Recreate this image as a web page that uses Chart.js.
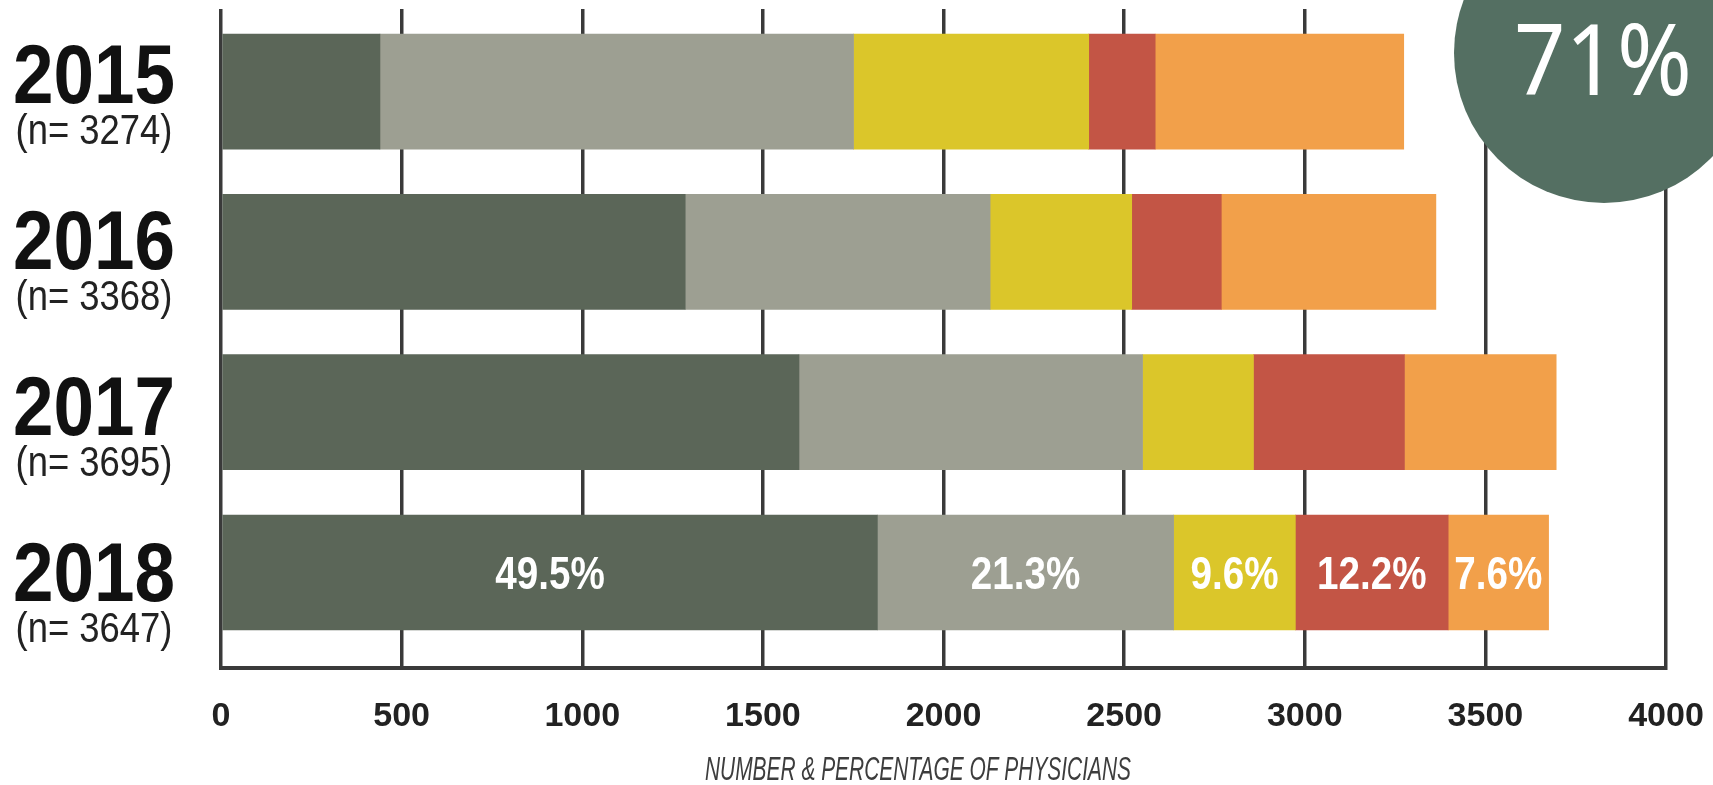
<!DOCTYPE html>
<html>
<head>
<meta charset="utf-8">
<script src="https://cdn.jsdelivr.net/npm/chart.js@4.4.1/dist/chart.umd.min.js"></script>
<style>
  html, body { margin: 0; padding: 0; background: #ffffff; overflow: hidden; }
  #wrap { width: 1713px; height: 785px; position: relative; }
</style>
</head>
<body>
<div id="wrap"><canvas id="c" width="1713" height="785"></canvas></div>
<script>
// ---------- data ----------
const years = ['2015', '2016', '2017', '2018'];
const sampleSizes = [3274, 3368, 3695, 3647];
const segDark   = [440, 1285, 1600, 1817];
const segGray   = [1311, 844, 951, 820];
const segYellow = [651, 392, 307, 337];
const segRed    = [184, 248, 418, 423];
const segOrange = [688, 594, 420, 278];
const pct2018   = [49.5, 21.3, 9.6, 12.2, 7.6];
const xTicks    = [0, 500, 1000, 1500, 2000, 2500, 3000, 3500, 4000];
const axisTitle = 'NUMBER & PERCENTAGE OF PHYSICIANS';
const callout   = '71%';

// ---------- styles ----------
const SANS = '"Liberation Sans", Arial, sans-serif';
const colors = ['#5b6658', '#9d9f92', '#dbc62a', '#c35545', '#f2a04a'];
const LINE = '#3a3a3a';

function condensed(ctx, text, x, y, factor) {
  const w = ctx.measureText(text).width;
  ctx.fillText(text, x, y, w * factor);
}

const extras = {
  id: 'extras',
  afterDatasetsDraw(chart) {
    const ctx = chart.ctx;
    const last = years.length - 1;
    ctx.save();
    ctx.fillStyle = '#ffffff';
    ctx.font = 'bold 46px ' + SANS;
    ctx.textAlign = 'center';
    ctx.textBaseline = 'alphabetic';
    chart.data.datasets.forEach((ds, di) => {
      const el = chart.getDatasetMeta(di).data[last];
      if (!el) return;
      const p = el.getCenterPoint();
      condensed(ctx, pct2018[di].toFixed(1) + '%', p.x, p.y + 17, 0.84);
    });
    ctx.restore();
  },
  afterDraw(chart) {
    const ctx = chart.ctx;
    const yS = chart.scales.y;
    ctx.save();
    ctx.textAlign = 'center';
    ctx.textBaseline = 'alphabetic';
    years.forEach((y, i) => {
      const py = yS.getPixelForValue(i) + (i - 1.5) * 6;
      ctx.fillStyle = '#111111';
      ctx.font = 'bold 84px ' + SANS;
      ctx.fillText(y, 94, py + 20, 162);
      ctx.fillStyle = '#222222';
      ctx.font = '42px ' + SANS;
      ctx.fillText('(n= ' + sampleSizes[i] + ')', 94, py + 61, 157);
    });
    // axis title
    ctx.fillStyle = '#3d3d3d';
    ctx.font = 'italic 34px ' + SANS;
    ctx.fillText(axisTitle, 918, 780, 426);
    // callout circle
    ctx.beginPath();
    ctx.arc(1604, 53, 150, 0, Math.PI * 2);
    ctx.fillStyle = '#546f62';
    ctx.fill();
    ctx.fillStyle = '#ffffff';
    ctx.font = '98px "Noto Sans", "Open Sans", sans-serif';
    ctx.fillText(callout, 1603, 95, 178);
    ctx.restore();
  }
};

const mk = (arr, i) => ({
  data: arr,
  backgroundColor: colors[i],
  borderWidth: 0,
  barThickness: 115
});

new Chart(document.getElementById('c'), {
  type: 'bar',
  data: {
    labels: years.map((_, i) => i),
    datasets: [mk(segDark, 0), mk(segGray, 1), mk(segYellow, 2), mk(segRed, 3), mk(segOrange, 4)]
  },
  options: {
    indexAxis: 'y',
    responsive: false,
    animation: false,
    layout: { padding: { left: 0, right: 47, top: 9, bottom: 0 } },
    plugins: { legend: { display: false }, tooltip: { enabled: false } },
    scales: {
      x: {
        type: 'linear',
        stacked: true,
        min: 0,
        max: 4000,
        afterBuildTicks: s => { s.ticks = xTicks.map(v => ({ value: v })); },
        afterFit: s => { s.height = 117; s.paddingLeft = 0; s.paddingRight = 0; },
        grid: { display: true, color: LINE, lineWidth: 3.5, drawTicks: false },
        border: { display: true, color: LINE, width: 4 },
        ticks: {
          padding: 28,
          color: '#222222',
          font: { family: SANS, size: 34, weight: 'bold' },
          callback: v => String(v),
          maxRotation: 0
        }
      },
      y: {
        type: 'linear',
        stacked: true,
        reverse: true,
        offset: false,
        min: -0.515,
        max: 3.596,
        afterBuildTicks: s => { s.ticks = years.map((_, i) => ({ value: i })); },
        afterFit: s => { s.width = 221; },
        grid: { display: false },
        border: { display: false },
        ticks: { display: false }
      }
    }
  },
  plugins: [extras]
});
</script>
</body>
</html>
